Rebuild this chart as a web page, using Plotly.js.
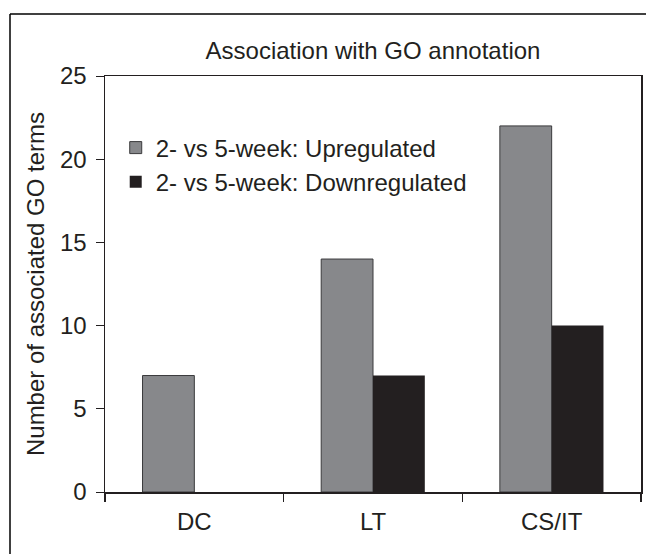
<!DOCTYPE html>
<html>
<head>
<meta charset="utf-8">
<script src="https://cdn.plot.ly/plotly-3.0.1.min.js"></script>
<style>html,body{margin:0;padding:0;background:#fff;}</style>
</head>
<body>
<div id="chart" style="width:646px;height:554px;"></div>
<script>
var categories = ["DC", "LT", "CS/IT"];
var upregulated = [7, 14, 22];
var downregulated = [0, 7, 10];
var seriesNames = ["2- vs 5-week: Upregulated", "2- vs 5-week: Downregulated"];
var yTicks = [0, 5, 10, 15, 20, 25];

var FONT = "Liberation Sans, Arial, Helvetica, sans-serif";
var INK = "#231f20";

var data = [
  {
    type: "bar", name: seriesNames[0], x: categories, y: upregulated,
    marker: {color: "#87888b", line: {color: "#3a3a3c", width: 1}},
    legendgroup: "a"
  },
  {
    type: "bar", name: seriesNames[1], x: categories, y: downregulated,
    marker: {color: "#231f20", line: {color: "#231f20", width: 0}},
    legendgroup: "b"
  }
];

var layout = {
  width: 646, height: 554,
  margin: {l: 105, r: 5, t: 76, b: 62},
  paper_bgcolor: "#ffffff", plot_bgcolor: "#ffffff",
  font: {family: FONT, size: 24, color: INK},
  barmode: "group", bargap: 0.42, bargroupgap: 0,
  title: {
    text: "Association with GO annotation",
    x: 0.5, xanchor: "center", xref: "paper",
    y: 1 - 51/554, yanchor: "middle", yref: "container",
    font: {family: FONT, size: 24, color: INK}
  },
  xaxis: {
    type: "category",
    showline: true, linecolor: INK, linewidth: 1.5, mirror: true,
    ticks: "outside", tickson: "boundaries", ticklen: 8, tickcolor: INK, tickwidth: 1.5,
    ticklabelstandoff: 8,
    showgrid: false, zeroline: false,
    tickfont: {family: FONT, size: 24, color: INK}
  },
  yaxis: {
    range: [0, 25], tickvals: yTicks,
    showline: true, linecolor: INK, linewidth: 1.5, mirror: true,
    ticks: "outside", ticklen: 8, tickcolor: INK, tickwidth: 1,
    ticklabelstandoff: 4,
    showgrid: false, zeroline: false,
    tickfont: {family: FONT, size: 24, color: INK},
    title: {text: "Number of associated GO terms", font: {family: FONT, size: 24, color: INK}, standoff: 8}
  },
  showlegend: true,
  legend: {
    x: 0.02, y: 0.881, xanchor: "left", yanchor: "top",
    bgcolor: "rgba(0,0,0,0)", borderwidth: 0,
    font: {family: FONT, size: 24, color: INK},
    traceorder: "normal", tracegroupgap: 3
  },
  shapes: [
    {type: "line", xref: "paper", yref: "paper",
     x0: (10-105)/536, x1: (10-105)/536, y0: (492-560)/416, y1: (492-14)/416,
     line: {color: "#000", width: 1.5}},
    {type: "line", xref: "paper", yref: "paper",
     x0: (10-105)/536, x1: (650-105)/536, y0: (492-14)/416, y1: (492-14)/416,
     line: {color: "#000", width: 1.5}}
  ]
};

Plotly.newPlot("chart", data, layout, {displayModeBar: false, staticPlot: true});
</script>
</body>
</html>
